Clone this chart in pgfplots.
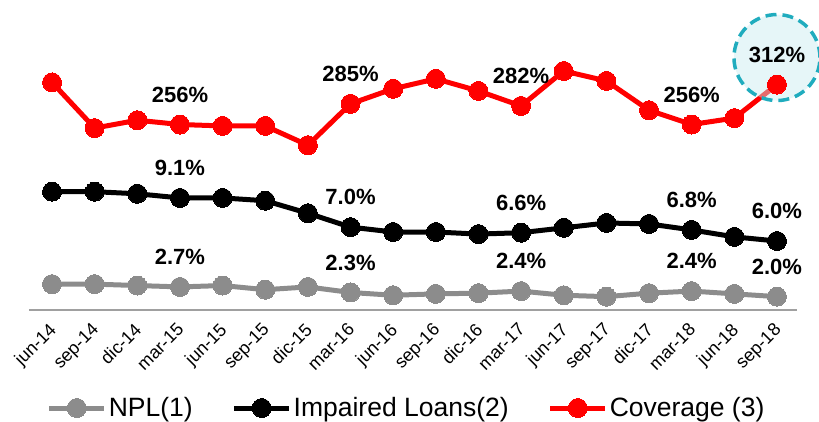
\documentclass[border=0pt]{standalone}
\usepackage{fontspec}
\setmainfont{Liberation Sans}
\usepackage{pgfplots}
\pgfplotsset{compat=1.18}
\definecolor{npl}{RGB}{140,140,140}
\definecolor{cov}{RGB}{255,0,0}
\definecolor{circfill}{RGB}{200,236,240}
\definecolor{circline}{RGB}{32,172,190}
\begin{document}
\begin{tikzpicture}
\useasboundingbox (-29pt,-112pt) rectangle (790pt,310pt);
\pgfplotsset{
  base/.style={
    at={(0pt,0pt)}, anchor=south west,
    scale only axis, width=768pt, height=290pt,
    xmin=-0.54, xmax=17.47, clip=false,
    point meta=explicit symbolic,
    nodes near coords={\pgfplotspointmeta},
    every node near coord/.append style={anchor=center, yshift=30pt,
      font=\fontsize{22}{26}\selectfont\bfseries, text=black},
  },
}
% Coverage axis
\begin{axis}[base, hide axis, ymin=-3.8, ymax=402.4]
\addplot[cov, line width=5pt, mark=*, mark size=9.5pt, mark options={fill=cov, draw=cov, line width=0pt}]
 coordinates {(0,315)[] (1,251)[] (2,262)[] (3,256)[256\%] (4,254)[] (5,254)[] (6,227)[] (7,285)[285\%] (8,306)[] (9,320)[] (10,303)[] (11,282)[282\%] (12,331)[] (13,317)[] (14,276)[] (15,256)[256\%] (16,265)[] (17,312)[312\%]};
\draw[circline, line width=3.5pt, dash pattern=on 11pt off 6pt, fill=circfill, fill opacity=0.45]
  ([yshift=27pt]axis cs:17,312) circle (43pt);
\end{axis}
% NPL and impaired loans axis
\begin{axis}[base, ymin=1.04, ymax=21.9,
  axis y line=none, axis x line*=bottom,
  x axis line style={-, draw={rgb,255:red,160;green,160;blue,160}, line width=1.5pt},
  xtick=data, major tick length=0pt,
  xticklabels={jun-14,sep-14,dic-14,mar-15,jun-15,sep-15,dic-15,mar-16,jun-16,sep-16,dic-16,mar-17,jun-17,sep-17,dic-17,mar-18,jun-18,sep-18},
  x tick label style={xshift=-4pt, yshift=-7pt, rotate=45, anchor=north east, font=\fontsize{18}{21}\selectfont},
  legend columns=3,
  legend style={draw=none, at={(0.491,-0.338)}, anchor=center,
    font=\fontsize{26.5}{30}\selectfont, inner sep=0pt,
    /tikz/every odd column/.append style={column sep=1pt},
    /tikz/every even column/.append style={column sep=38pt},
    nodes={inner sep=1pt}},
  legend image code/.code={\draw[#1, mark repeat=2, mark phase=2] plot coordinates {(0pt,0pt) (27.5pt,0pt) (55pt,0pt)};},
]
\addplot[npl, line width=5pt, mark=*, mark size=9.5pt, mark options={fill=npl, draw=npl, line width=0pt}]
 coordinates {(0,2.9)[] (1,2.9)[] (2,2.8)[] (3,2.7)[2.7\%] (4,2.8)[] (5,2.5)[] (6,2.7)[] (7,2.3)[2.3\%] (8,2.1)[] (9,2.2)[] (10,2.25)[] (11,2.4)[2.4\%] (12,2.1)[] (13,2.0)[] (14,2.25)[] (15,2.4)[2.4\%] (16,2.2)[] (17,2.0)[2.0\%]};
\addlegendentry{NPL(1)}
\addplot[black, line width=5pt, mark=*, mark size=9.5pt, mark options={fill=black, draw=black, line width=0pt}]
 coordinates {(0,9.55)[] (1,9.55)[] (2,9.4)[] (3,9.1)[9.1\%] (4,9.1)[] (5,8.9)[] (6,8.0)[] (7,7.0)[7.0\%] (8,6.65)[] (9,6.65)[] (10,6.5)[] (11,6.6)[6.6\%] (12,6.95)[] (13,7.3)[] (14,7.23)[] (15,6.8)[6.8\%] (16,6.3)[] (17,6.0)[6.0\%]};
\addlegendentry{Impaired Loans(2)}
\addlegendimage{cov, line width=5pt, mark=*, mark size=9.5pt, mark options={fill=cov, draw=cov, line width=0pt}}
\addlegendentry{Coverage (3)}
\end{axis}
\end{tikzpicture}
\end{document}
